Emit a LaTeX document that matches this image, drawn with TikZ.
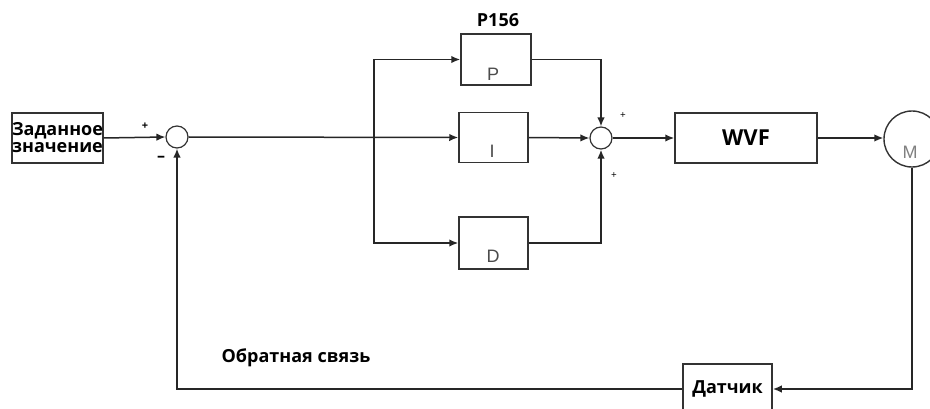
\documentclass[tikz,border=0pt]{standalone}
\usepackage{fontspec}
\setmainfont{Open Sans}
\newfontfamily\thinfont{Liberation Sans}
\usetikzlibrary{arrows.meta}
\begin{document}
\begin{tikzpicture}[x=1pt,y=-1pt,
  ln/.style={line width=1.5pt, draw=black!85},
  arr/.style={ln, -{Latex[length=9pt,width=7.5pt]}},
  blk/.style={draw=black!80, line width=1.5pt, rectangle, inner sep=0pt, fill=white},
  sumj/.style={draw=black!80, line width=1.2pt, circle, inner sep=0pt, minimum size=22pt},
  btxt/.style={font=\fontsize{18}{20}\selectfont\bfseries, text=black},
  ltxt/.style={font=\thinfont\fontsize{18}{20}\selectfont, text=black!70},
  sgn/.style={font=\fontsize{11}{12}\selectfont\bfseries, text=black}]
\useasboundingbox (0,0) rectangle (930,409);
\fill[white] (0,0) rectangle (930,409);
% blocks
\node[blk, minimum width=89pt, minimum height=50pt, btxt, align=center] (zad) at (57.5,138) {Заданное\\[-3pt]значение};
\node[sumj] (s1) at (177,137) {};
\node[blk, minimum width=70pt, minimum height=51pt] (P) at (496,59.5) {};
\node[blk, minimum width=69pt, minimum height=50pt] (I) at (493.5,137.5) {};
\node[blk, minimum width=69pt, minimum height=52pt] (D) at (493.5,243) {};
\node[sumj] (s2) at (601,138) {};
\node[blk, minimum width=142pt, minimum height=50pt, font=\fontsize{22}{24}\selectfont\bfseries] (W) at (746,138) {WVF};
\node[draw=black!80, line width=1.4pt, circle, minimum size=56pt, inner sep=0pt] (M) at (912,139) {};
\node[blk, minimum width=89pt, minimum height=50pt, btxt] (Dat) at (727.5,389) {};
% texts
\node[ltxt] (tP) at (493,74) {P};
\node[ltxt] (tI) at (492,151) {I};
\node[ltxt] (tD) at (493,256) {D};
\node[ltxt, text=black!50] (tM) at (910,152) {M};
\node[btxt] (tDat) at (727.5,389) {Датчик};
\node[btxt] (p156) at (498,20) {P156};
\node[btxt] (fb) at (296,358) {Обратная связь};
\node[sgn] (pl1) at (145,126) {+};
\node[sgn, font=\fontsize{16}{16}\selectfont\bfseries] (mi1) at (161,159) {–};
\node[sgn, font=\fontsize{10}{10}\selectfont] (pl2) at (623,116) {+};
\node[sgn, font=\fontsize{10}{10}\selectfont] (pl3) at (614,176) {+};
% connectors
\coordinate (br) at (374,137);
\draw[arr] (zad.east) -- (s1.west);
\draw[arr] (s1.east) -- (I.west);
\draw[arr] (br) |- (P.west);
\draw[arr] (br) |- (D.west);
\draw[arr] (P.east) -| (s2.north);
\draw[arr] (I.east) -- (s2.west);
\draw[arr, line width=2pt] (D.east) -| (s2.south);
\draw[arr] (s2.east) -- (W.west);
\draw[arr] (W.east) -- (W.east -| M.west);
\draw[arr, line width=2pt] (M.south) |- (Dat.east);
\draw[arr] (Dat.west) -| (s1.south);
\end{tikzpicture}
\end{document}
